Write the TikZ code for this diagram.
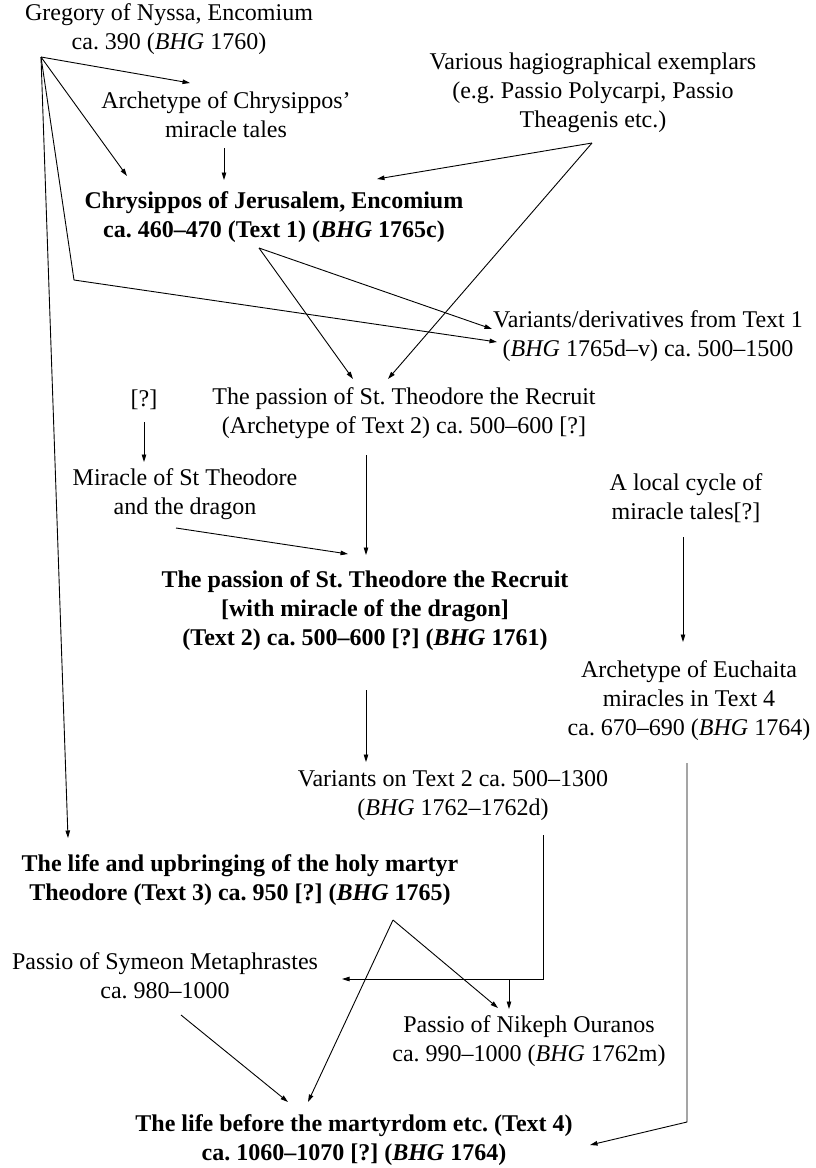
\documentclass[tikz,border=0pt]{standalone}
\usepackage{fontspec}
\setmainfont{Liberation Serif}
\usetikzlibrary{arrows.meta}
\frenchspacing
\begin{document}
\begin{tikzpicture}[x=1pt,y=-1pt,
  lbl/.style={align=center,inner sep=0pt,font=\fontsize{24}{29}\selectfont\frenchspacing},
  blbl/.style={lbl,font=\fontsize{24}{29}\selectfont\bfseries\frenchspacing},
  conn/.style={line width=0.9pt,-{Triangle[length=7.5pt,width=4.5pt]}},
  plain/.style={line width=0.9pt}]
\useasboundingbox (0,0) rectangle (816,1168);
% text nodes
\node[lbl] (greg) at (169,29) {Gregory of Nyssa, Encomium\\ca. 390 (\textit{BHG} 1760)};
\node[lbl] (arch) at (226,115) {Archetype of Chrysippos'\\miracle tales};
\node[lbl] (vari) at (593,93) {Various hagiographical exemplars\\(e.g. Passio Polycarpi, Passio\\Theagenis etc.)};
\node[blbl] (chrys) at (274,217) {Chrysippos of Jerusalem, Encomium\\ca. 460--470 (Text 1) (\textit{BHG} 1765c)};
\node[lbl] (var1) at (648,336) {Variants/derivatives from Text 1\\(\textit{BHG} 1765d--v) ca. 500--1500};
\node[lbl] (parch) at (404,413) {The passion of St. Theodore the Recruit\\(Archetype of Text 2) ca. 500--600 [?]};
\node[lbl] (q) at (144,400) {[?]};
\node[lbl] (mir) at (185,494) {Miracle of St Theodore\\and the dragon};
\node[blbl] (pass2) at (365,611) {The passion of St. Theodore the Recruit\\{[}with miracle of the dragon{]}\\(Text 2) ca. 500--600 [?] (\textit{BHG} 1761)};
\node[lbl] (local) at (686,498) {A local cycle of\\miracle tales[?]};
\node[lbl] (euch) at (689,701) {Archetype of Euchaita\\miracles in Text 4\\ca. 670--690 (\textit{BHG} 1764)};
\node[lbl] (var2) at (453,796) {Variants on Text 2 ca. 500--1300\\(\textit{BHG} 1762--1762d)};
\node[blbl] (life3) at (240,880) {The life and upbringing of the holy martyr\\Theodore (Text 3) ca. 950 [?] (\textit{BHG} 1765)};
\node[lbl] (sym) at (165,976) {Passio of Symeon Metaphrastes\\ca. 980--1000};
\node[lbl] (nik) at (529,1041) {Passio of Nikeph Ouranos\\ca. 990--1000 (\textit{BHG} 1762m)};
\node[blbl] (life4) at (354,1140) {The life before the martyrdom etc. (Text 4)\\ca. 1060--1070 [?] (\textit{BHG} 1764)};
% connector end points
\coordinate (gF) at (41,57);
\coordinate (archIn) at (190,83);
\coordinate (chrysInL) at (127,176);
\coordinate (gBend) at (74,280);
\coordinate (var1InB) at (497,342);
\coordinate (life3In) at (68,838);
\coordinate (archOut) at (224,148);
\coordinate (chrysInT) at (224,180);
\coordinate (variOut) at (592,143);
\coordinate (chrysInR) at (377,179);
\coordinate (parchInR) at (388,379);
\coordinate (chrysOut) at (259,248);
\coordinate (parchInL) at (353,379);
\coordinate (var1InA) at (492,329);
\coordinate (parchOut) at (366,455);
\coordinate (pass2InT) at (366,555);
\coordinate (qOut) at (144,422);
\coordinate (mirIn) at (144,462);
\coordinate (mirOut) at (176,528);
\coordinate (pass2InL) at (348,554);
\coordinate (localOut) at (683,537);
\coordinate (euchIn) at (683,642);
\coordinate (pass2Out) at (366,690);
\coordinate (var2In) at (366,762);
\coordinate (euchOut) at (687,763);
\coordinate (euchBend) at (687,1122);
\coordinate (life4InR) at (590,1145);
\coordinate (var2Out) at (543,835);
\coordinate (var2Bend) at (543,979);
\coordinate (symIn) at (342,979);
\coordinate (var2Branch) at (509,979);
\coordinate (nikInR) at (509,1009);
\coordinate (life3Out) at (393,920);
\coordinate (nikInL) at (498,1008);
\coordinate (life4InM) at (308,1102);
\coordinate (symOut) at (181,1015);
\coordinate (life4InL) at (288,1102);
% connectors
\draw[conn] (gF) -- (archIn);
\draw[conn] (gF) -- (chrysInL);
\draw[conn] (gF) -- (gBend) -- (var1InB);
\draw[conn] (gF) -- (life3In);
\draw[conn] (archOut) -- (chrysInT);
\draw[conn] (variOut) -- (chrysInR);
\draw[conn] (variOut) -- (parchInR);
\draw[conn] (chrysOut) -- (parchInL);
\draw[conn] (chrysOut) -- (var1InA);
\draw[conn] (parchOut) -- (pass2InT);
\draw[conn] (qOut) -- (mirIn);
\draw[conn] (mirOut) -- (pass2InL);
\draw[conn] (localOut) -- (euchIn);
\draw[conn] (pass2Out) -- (var2In);
\draw[conn] (euchOut) -- (euchBend) -- (life4InR);
\draw[conn] (var2Out) -- (var2Bend) -- (symIn);
\draw[conn] (var2Branch) -- (nikInR);
\draw[conn] (life3Out) -- (nikInL);
\draw[conn] (life3Out) -- (life4InM);
\draw[conn] (symOut) -- (life4InL);
\end{tikzpicture}
\end{document}
